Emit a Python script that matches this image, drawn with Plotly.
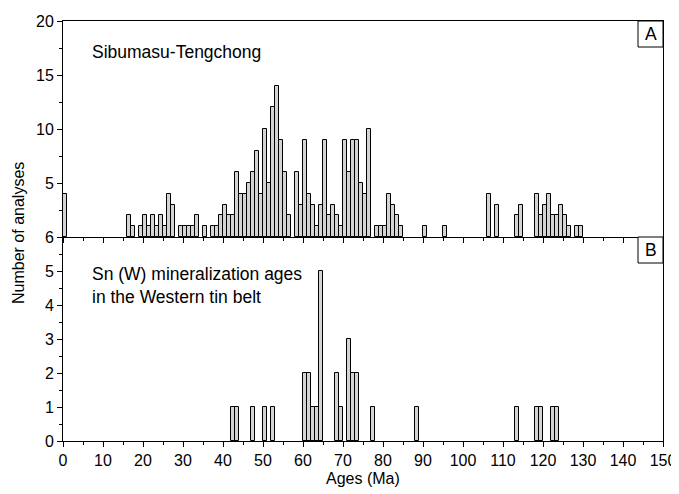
import plotly.graph_objects as go
from plotly.subplots import make_subplots

# Panel A: Sibumasu-Tengchong (1-Ma bins, left edge age, count)
age_A = [0, 16, 17, 19, 20, 21, 22, 23, 24, 25, 26, 27, 29, 30, 31, 32, 33, 35, 37, 38,
         39, 40, 41, 42, 43, 44, 45, 46, 47, 48, 49, 50, 51, 52, 53, 54, 55, 56, 58, 59,
         60, 61, 62, 63, 64, 65, 66, 67, 68, 69, 70, 71, 72, 73, 74, 75, 76, 78, 79, 80,
         81, 82, 83, 84, 90, 95, 106, 108, 113, 114, 118, 119, 120, 121, 122, 123, 124,
         125, 126, 128, 129]
n_A = [4, 2, 1, 1, 2, 1, 2, 1, 2, 1, 4, 3, 1, 1, 1, 1, 2, 1, 1, 1,
       2, 3, 2, 2, 6, 4, 4, 5, 6, 8, 4, 10, 5, 12, 14, 9, 6, 2, 6, 3,
       9, 4, 3, 1, 3, 9, 2, 3, 2, 1, 9, 6, 9, 9, 5, 4, 10, 1, 1, 1,
       4, 3, 2, 1, 1, 1, 4, 3, 2, 3, 4, 2, 3, 4, 2, 2, 3,
       2, 1, 1, 1]

# Panel B: Sn (W) mineralization ages in the Western tin belt
age_B = [42, 43, 47, 50, 52, 60, 61, 62, 63, 64, 68, 69, 71, 72, 73, 77, 88, 113, 118, 119, 122, 123]
n_B = [1, 1, 1, 1, 1, 2, 2, 1, 1, 5, 2, 1, 3, 2, 2, 1, 1, 1, 1, 1, 1, 1]

x_ticks = list(range(0, 151, 10))
yA_ticks = [0, 5, 10, 15, 20]
yA_text = ["", "5", "10", "15", "20"]
yB_ticks = [0, 1, 2, 3, 4, 5, 6]

FONT = "Liberation Sans, Arial, sans-serif"
BAR_FILL = "#d4d4d4"

# page has a default 8px body margin; size the figure so the plot lands where the reference has it
OFF = 8
W, H = 679 - OFF, 494 - OFF
ml, mr, mt, mb = 63 - OFF, 16, 21 - OFF, 53
pw, ph = W - ml - mr, H - mt - mb

fig = make_subplots(rows=2, cols=1, shared_xaxes=False, vertical_spacing=0,
                    row_heights=[216, 204])

fig.add_trace(go.Bar(x=[a + 0.5 for a in age_A], y=n_A, width=1,
                     marker=dict(color=BAR_FILL, line=dict(color="black", width=1)),
                     showlegend=False), row=1, col=1)
fig.add_trace(go.Bar(x=[a + 0.5 for a in age_B], y=n_B, width=1,
                     marker=dict(color=BAR_FILL, line=dict(color="black", width=1)),
                     showlegend=False), row=2, col=1)

axis_common = dict(showline=True, linecolor="black", linewidth=1, showgrid=False,
                   zeroline=False, ticks="outside", tickcolor="black", ticklen=5,
                   tickwidth=1, automargin=False,
                   tickfont=dict(family=FONT, size=16, color="black"))

fig.update_xaxes(range=[0, 150], tickmode="array", tickvals=x_ticks,
                 minor=dict(ticks="outside", ticklen=3, tickcolor="black",
                            tickmode="array", tickvals=[t + 5 for t in x_ticks[:-1]]),
                 **axis_common)
fig.update_xaxes(showticklabels=False, mirror=True, row=1, col=1)
fig.update_xaxes(showticklabels=True, row=2, col=1)

fig.update_yaxes(range=[0, 20], tickmode="array", tickvals=yA_ticks, ticktext=yA_text,
                 minor=dict(ticks="outside", ticklen=3, tickcolor="black",
                            tickmode="array", tickvals=[2.5, 7.5, 12.5, 17.5]),
                 mirror=True, row=1, col=1, **axis_common)
fig.update_yaxes(range=[0, 6], tickmode="array", tickvals=yB_ticks,
                 minor=dict(ticks="outside", ticklen=3, tickcolor="black",
                            tickmode="array", tickvals=[0.5, 1.5, 2.5, 3.5, 4.5, 5.5]),
                 mirror=True, row=2, col=1, **axis_common)


def px(x):
    # page x pixel -> paper coordinate
    return (x - OFF - ml) / pw


def py(y):
    # page y pixel -> paper coordinate
    return (H - mb - (y - OFF)) / ph


big = dict(family=FONT, size=17.5, color="black")
mid = dict(family=FONT, size=16, color="black")
annotations = [
    dict(text="Sibumasu-Tengchong", x=px(90), y=py(52), xanchor="left", yanchor="middle", font=big),
    dict(text="Sn (W) mineralization ages", x=px(90), y=py(274), xanchor="left", yanchor="middle", font=big),
    dict(text="in the Western tin belt", x=px(90), y=py(297), xanchor="left", yanchor="middle", font=big),
    dict(text="A", x=px(651), y=py(34), xanchor="center", yanchor="middle", font=big),
    dict(text="B", x=px(651), y=py(250), xanchor="center", yanchor="middle", font=big),
    dict(text="Ages (Ma)", x=0.5, y=py(479), xanchor="center", yanchor="middle", font=mid),
    dict(text="Number of analyses", x=px(18), y=py(233), xanchor="center", yanchor="middle",
         textangle=-90, font=dict(family=FONT, size=16, color="black")),
]
for a in annotations:
    a.update(xref="paper", yref="paper", showarrow=False)

shapes = [
    dict(type="rect", xref="paper", yref="paper", x0=px(638), x1=px(663), y0=py(47), y1=py(21),
         line=dict(color="black", width=1), fillcolor="white", layer="above"),
    dict(type="rect", xref="paper", yref="paper", x0=px(638), x1=px(663), y0=py(263), y1=py(237),
         line=dict(color="black", width=1), fillcolor="white", layer="above"),
]

fig.update_layout(width=W, height=H, margin=dict(l=ml, r=mr, t=mt, b=mb, autoexpand=False),
                  plot_bgcolor="white", paper_bgcolor="white", bargap=0,
                  annotations=annotations, shapes=shapes,
                  font=dict(family=FONT, size=16, color="black"))

fig.write_html("out.html")
